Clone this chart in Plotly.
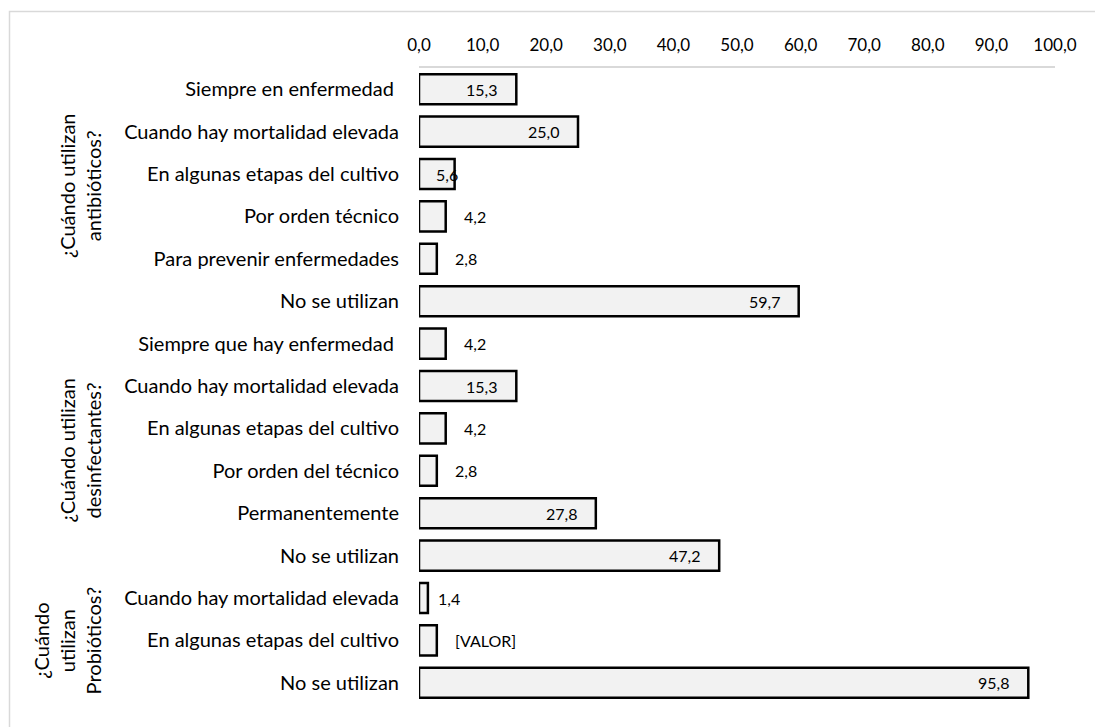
import plotly.graph_objects as go

categories = [
    "Siempre en enfermedad ",
    "Cuando hay mortalidad elevada",
    "En algunas etapas del cultivo",
    "Por orden técnico",
    "Para prevenir enfermedades",
    "No se utilizan",
    "Siempre que hay enfermedad ",
    "Cuando hay mortalidad elevada",
    "En algunas etapas del cultivo",
    "Por orden del técnico",
    "Permanentemente",
    "No se utilizan",
    "Cuando hay mortalidad elevada",
    "En algunas etapas del cultivo",
    "No se utilizan",
]
values = [15.3, 25.0, 5.6, 4.2, 2.8, 59.7, 4.2, 15.3, 4.2, 2.8, 27.8, 47.2, 1.4, 2.8, 95.8]
value_labels = ["15,3", "25,0", "5,6", "4,2", "2,8", "59,7", "4,2", "15,3", "4,2", "2,8",
                "27,8", "47,2", "1,4", "[VALOR]", "95,8"]
groups = ["¿Cuándo utilizan<br>antibióticos?",
          "¿Cuándo utilizan<br>desinfectantes?",
          "¿Cuándo<br>utilizan<br>Probióticos?"]
group_rows = [(0, 5), (6, 11), (12, 14)]
x_ticks = [0, 10, 20, 30, 40, 50, 60, 70, 80, 90, 100]

# label placement (pixel positions of the rotated group titles)
group_label_px = [80, 80, 67]
group_label_dy = [-0.24, 0.0, 0.0]

FONT = "Lato"
ypos = list(range(len(categories)))

W, H = 1095, 727
L, R, T, B = 419, 40, 68, 23
pw, ph = W - L - R, H - T - B
def px_x(p):
    return (p - L) / pw
def px_y(p):
    return (H - B - p) / ph

fig = go.Figure()
fig.add_trace(go.Bar(
    x=values, y=ypos, orientation="h",
    marker=dict(color="#f2f2f2", line=dict(color="#000000", width=2.5)),
    hoverinfo="skip",
))

annotations = []
for v, lab, y in zip(values, value_labels, ypos):
    if v >= 10:
        anchor, shift = "right", -17
    elif v >= 5:
        anchor, shift = "center", -8
    elif v < 2:
        anchor, shift = "left", 8
    else:
        anchor, shift = "left", 16
    annotations.append(dict(x=v, y=y, xref="x", yref="y", text=lab, showarrow=False,
                            xanchor=anchor, xshift=shift,
                            font=dict(family=FONT, size=16, color="#000000")))

for g, (a, b), gx, dy in zip(groups, group_rows, group_label_px, group_label_dy):
    annotations.append(dict(x=px_x(gx), y=(a + b) / 2 + dy, xref="paper", yref="y", text=g,
                            showarrow=False, textangle=-90, xanchor="center", yanchor="middle",
                            align="center",
                            font=dict(family=FONT, size=20, color="#000000")))

fig.update_layout(
    width=W, height=H,
    margin=dict(l=L, r=R, t=T, b=B, pad=0),
    paper_bgcolor="white", plot_bgcolor="white",
    separators=", ",
    bargap=0.29,
    showlegend=False,
    font=dict(family=FONT, size=16, color="#000000"),
    annotations=annotations,
    shapes=[dict(type="rect", xref="paper", yref="paper",
                 x0=px_x(9.5), x1=px_x(1120), y0=px_y(740), y1=px_y(11.5),
                 line=dict(color="#d9d9d9", width=1.5), fillcolor="rgba(0,0,0,0)", layer="below")],
    xaxis=dict(side="top", range=[0, 100], tickvals=x_ticks, tickformat=".1f",
               showgrid=False, zeroline=False, showline=True, linecolor="#d9d9d9", linewidth=2,
               ticks="", tickfont=dict(family=FONT, size=17, color="#000000"),
               ticklabelstandoff=8, fixedrange=True),
    yaxis=dict(range=[len(categories) - 0.5, -0.5], tickvals=ypos, ticktext=categories,
               showgrid=False, zeroline=False, showline=False, ticks="",
               tickfont=dict(family=FONT, size=20, color="#000000"),
               ticklabelstandoff=19, fixedrange=True),
)

fig.write_html("out.html", config={"displayModeBar": False})
